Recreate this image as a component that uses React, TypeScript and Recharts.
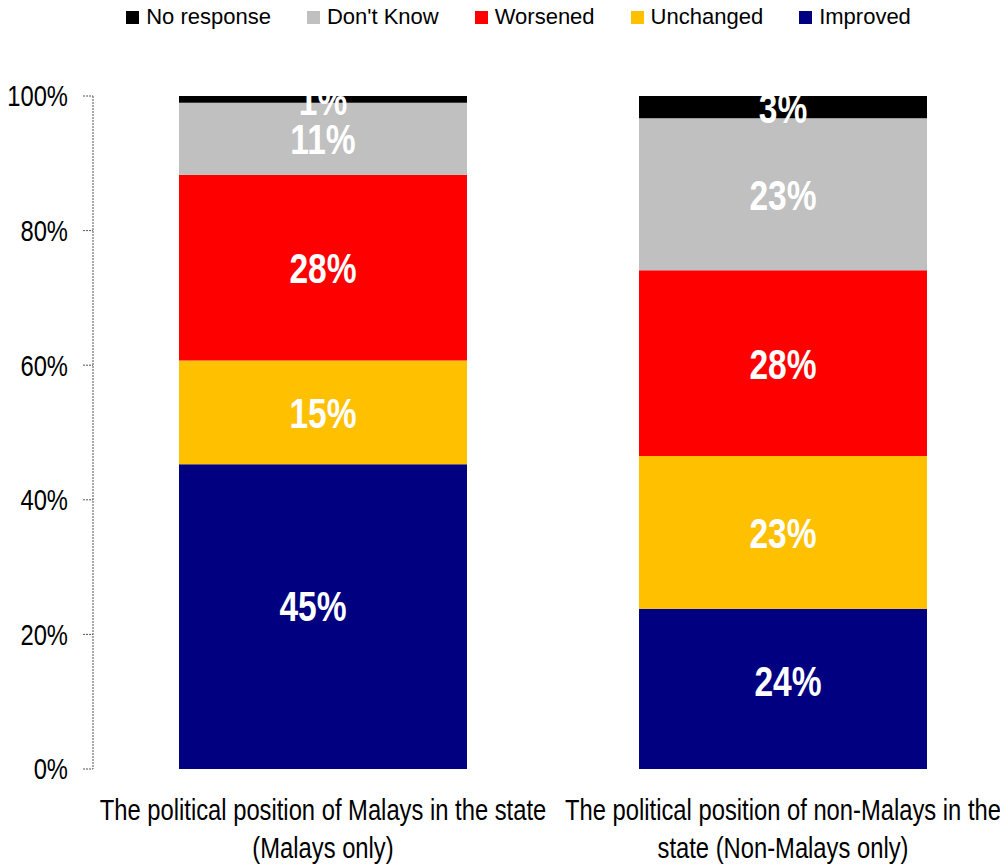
import React from 'react';
import { BarChart, Bar, XAxis, YAxis, Legend, LabelList } from 'recharts';

// Liberation Sans squeezed horizontally to mimic Arial Narrow
const FONT = "'Liberation Sans', Arial, sans-serif";
const SQUEEZE = 0.82;

// categories (line break = where the label wraps)
const categories = [
  'The political position of Malays in the state\n(Malays only)',
  'The political position of non-Malays in the\nstate (Non-Malays only)',
];

// series values, percent
const improved = [45.3, 23.8];
const unchanged = [15.4, 22.7];
const worsened = [27.6, 27.6];
const dontKnow = [10.7, 22.6];
const noResponse = [1.0, 3.3];

const yTicks = [0, 20, 40, 60, 80, 100];

const series = [
  { key: 'improved', name: 'Improved', color: '#000080', values: improved },
  { key: 'unchanged', name: 'Unchanged', color: '#FFC000', values: unchanged },
  { key: 'worsened', name: 'Worsened', color: '#FF0000', values: worsened },
  { key: 'dontKnow', name: "Don't Know", color: '#C0C0C0', values: dontKnow },
  { key: 'noResponse', name: 'No response', color: '#000000', values: noResponse },
];

const data = categories.map((name, i) => {
  const row: any = { name };
  series.forEach((s) => (row[s.key] = s.values[i]));
  return row;
});

// the bottom labels were hand-nudged in the original
const improvedNudge = [
  { dx: -10, dy: -11 },
  { dx: 5, dy: -8 },
];

const CategoryTick = (props: any) => {
  const { x, y, payload } = props;
  const lines = String(payload.value).split('\n');
  return (
    <text
      transform={`translate(${x},${y}) scale(${SQUEEZE},1)`}
      x={0}
      y={0}
      textAnchor="middle"
      fontSize={29}
      fontFamily={FONT}
      fill="#000"
    >
      {lines.map((l, i) => (
        <tspan key={i} x={0} dy={i === 0 ? 51 : 38}>
          {l}
        </tspan>
      ))}
    </text>
  );
};

const PercentTick = (props: any) => {
  const { x, y, payload } = props;
  return (
    <text
      transform={`translate(${x},${y}) scale(${SQUEEZE},1)`}
      x={0}
      y={0}
      dy="0.36em"
      textAnchor="end"
      fontSize={29}
      fontFamily={FONT}
      fill="#000"
    >
      {`${payload.value}%`}
    </text>
  );
};

const makeSegmentLabel = (seriesKey: string) => (props: any) => {
  const { x, y, width, height, value, index } = props;
  const nudge = seriesKey === 'improved' ? improvedNudge[index] || { dx: 0, dy: 0 } : { dx: 0, dy: 0 };
  const cx = Number(x) + Number(width) / 2 + nudge.dx;
  const cy = Number(y) + Number(height) / 2 + nudge.dy;
  return (
    <text
      transform={`translate(${cx},${cy}) scale(0.78,1)`}
      x={0}
      y={0}
      dy="0.36em"
      textAnchor="middle"
      fontSize={43}
      fontWeight="bold"
      fontFamily={FONT}
      fill="#fff"
    >
      {`${Math.round(Number(value))}%`}
    </text>
  );
};

const LegendContent = () => (
  <div
    style={{
      display: 'flex',
      justifyContent: 'center',
      paddingLeft: 16,
      fontFamily: FONT,
      fontSize: 22,
      lineHeight: '28px',
      whiteSpace: 'nowrap',
    }}
  >
    {[...series].reverse().map((s, i, arr) => (
      <div key={s.key} style={{ display: 'flex', alignItems: 'center', marginRight: i === arr.length - 1 ? 0 : 36 }}>
        <span style={{ width: 13, height: 13, background: s.color, marginRight: 7, display: 'inline-block' }} />
        <span>{s.name}</span>
      </div>
    ))}
  </div>
);

export default function App() {
  return (
    <BarChart width={1000} height={857} data={data} margin={{ top: 60, right: -5, bottom: 0, left: 0 }}>
      <Legend verticalAlign="top" content={LegendContent} wrapperStyle={{ top: -5 }} />
      <XAxis dataKey="name" axisLine={false} tickLine={false} tickSize={0} tickMargin={0} height={96} interval={0} tick={CategoryTick} />
      <YAxis
        domain={[0, 100]}
        ticks={yTicks}
        width={85}
        axisLine={{ stroke: '#555', strokeDasharray: '2 1' }}
        tickLine={{ stroke: '#555', strokeDasharray: '2 1' }}
        tickSize={10}
        tickMargin={15}
        tick={PercentTick}
      />
      {series.map((s) => (
        <Bar key={s.key} dataKey={s.key} name={s.name} stackId="a" fill={s.color} barSize={288} isAnimationActive={false}>
          <LabelList dataKey={s.key} position="center" content={makeSegmentLabel(s.key)} />
        </Bar>
      ))}
    </BarChart>
  );
}
